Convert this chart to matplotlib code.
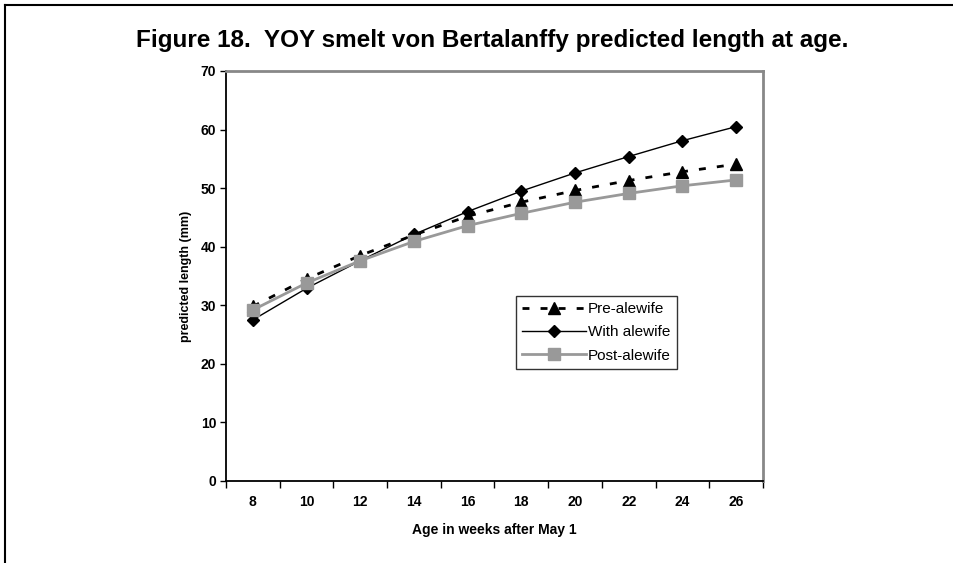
import matplotlib.pyplot as plt
from matplotlib.lines import Line2D

plt.rcParams["font.family"] = ["Liberation Sans", "DejaVu Sans"]

AGES = ["8", "10", "12", "14", "16", "18", "20", "22", "24", "26"]
PRE_ALEWIFE = [29.8, 34.5, 38.5, 42.0, 45.2, 47.6, 49.6, 51.3, 52.8, 54.1]
WITH_ALEWIFE = [27.5, 32.9, 37.6, 42.1, 46.0, 49.5, 52.6, 55.4, 58.1, 60.5]
POST_ALEWIFE = [29.2, 33.8, 37.6, 40.9, 43.6, 45.7, 47.6, 49.1, 50.4, 51.4]
YTICKS = [0, 10, 20, 30, 40, 50, 60, 70]

W, H = 954, 563
fig = plt.figure(figsize=(W / 100, H / 100), dpi=100)
ax = fig.add_axes([226 / W, 1 - 481 / H, (763 - 226) / W, (481 - 71) / H])

x = list(range(len(AGES)))
ax.plot(x, PRE_ALEWIFE, color="black", linestyle=(0, (2.5, 4)), linewidth=2,
        marker="^", markersize=8.5, label="Pre-alewife", zorder=3)
ax.plot(x, WITH_ALEWIFE, color="black", linestyle="-", linewidth=1,
        marker="D", markersize=6.5, label="With alewife", zorder=4)
ax.plot(x, POST_ALEWIFE, color="#999999", linestyle="-", linewidth=2,
        marker="s", markersize=8.5, label="Post-alewife", zorder=5)

ax.set_xlim(-0.5, len(AGES) - 0.5)
ax.set_ylim(0, 70)
ax.set_yticks(YTICKS)
ax.set_yticklabels([str(v) for v in YTICKS], fontsize=10, fontweight="bold")
ax.set_xticks(x)
ax.set_xticklabels(AGES, fontsize=10, fontweight="bold")
ax.set_xticks([i + 0.5 for i in range(-1, len(AGES))], minor=True)
ax.tick_params(axis="x", which="major", length=0, pad=10)
ax.tick_params(axis="x", which="minor", length=5, width=1, direction="out")
ax.tick_params(axis="y", length=4, width=1, direction="out", pad=3)

for side in ["left", "bottom"]:
    ax.spines[side].set_color("black")
    ax.spines[side].set_linewidth(1.3)
for side in ["top", "right"]:
    ax.spines[side].set_color("#888888")
    ax.spines[side].set_linewidth(2)

ax.set_xlabel("Age in weeks after May 1", fontsize=10, fontweight="bold", labelpad=10)
ax.set_ylabel("predicted length (mm)", fontsize=9, fontweight="bold", labelpad=6)

leg = ax.legend(loc="upper left", bbox_to_anchor=(0.540, 0.451), frameon=True,
                fancybox=False, edgecolor="black", fontsize=11, handlelength=4.2,
                handletextpad=0.1, labelspacing=0.6, borderpad=0.4,
                borderaxespad=0)
leg.get_frame().set_linewidth(1)

fig.text(492 / W, 1 - 40 / H,
         "Figure 18.  YOY smelt von Bertalanffy predicted length at age.",
         ha="center", va="center", fontsize=17.5, fontweight="bold")

# outer frame (top and left edges only)
fig.add_artist(Line2D([5 / W, 1], [1 - 5 / H, 1 - 5 / H], color="black", linewidth=1.5))
fig.add_artist(Line2D([5 / W, 5 / W], [0, 1 - 5 / H], color="black", linewidth=1.5))

fig.savefig("out.png", dpi=100)
